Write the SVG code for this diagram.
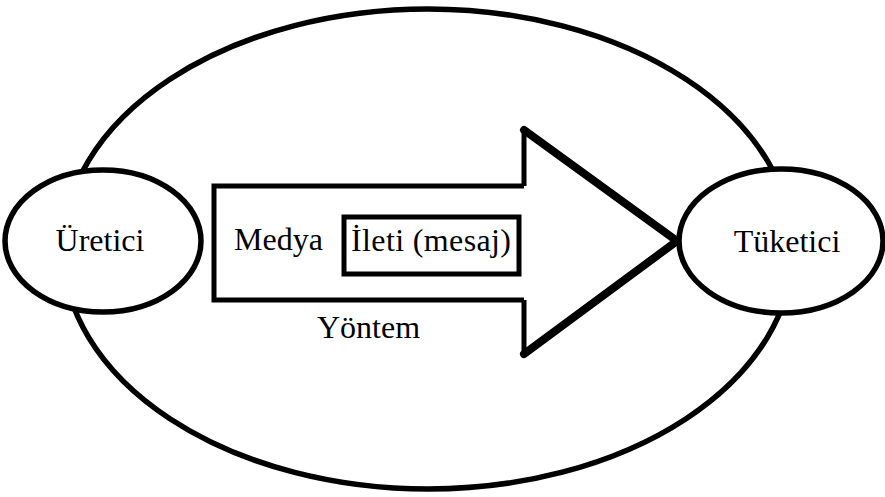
<svg xmlns="http://www.w3.org/2000/svg" width="885" height="497" viewBox="0 0 885 497">
  <style>
    .line { fill: none; stroke: #000; stroke-linejoin: miter; }
    .node { fill: #fff; stroke: #000; stroke-width: 5.5; }
    .label { font-size: 32px; fill: #000; }
  </style>
  <rect width="885" height="497" fill="#fff"/>

  <!-- surrounding context boundary -->
  <g id="context">
    <ellipse class="line" cx="428" cy="249" rx="365" ry="240" stroke-width="5.5"/>
  </g>

  <!-- transfer arrow from producer to consumer -->
  <g id="connectors">
    <g id="method-arrow">
      <path class="line" stroke-width="5" d="M524,186 H214 V300 H524 M524,186 V130 M524,300 V354"/>
      <path class="line" stroke-width="8" stroke-linecap="round" d="M524,130 L677,241 L524,354"/>
    </g>
  </g>

  <g font-family="'Liberation Serif', 'Times New Roman', 'DejaVu Serif', serif">
    <g id="producer">
      <ellipse class="node" cx="103" cy="241" rx="98" ry="71"/>
      <text class="label" x="100" y="251" text-anchor="middle">Üretici</text>
    </g>

    <g id="consumer">
      <ellipse class="node" cx="781" cy="241" rx="102" ry="72"/>
      <text class="label" x="787" y="252" text-anchor="middle">Tüketici</text>
    </g>

    <g id="media">
      <text class="label" x="234" y="250">Medya</text>
    </g>

    <g id="message">
      <rect x="344" y="217" width="175" height="57" fill="none" stroke="#000" stroke-width="5"/>
      <text class="label" x="351" y="251" textLength="160" lengthAdjust="spacing">İleti (mesaj)</text>
    </g>

    <g id="method">
      <text class="label" x="317" y="338">Yöntem</text>
    </g>
  </g>
</svg>
